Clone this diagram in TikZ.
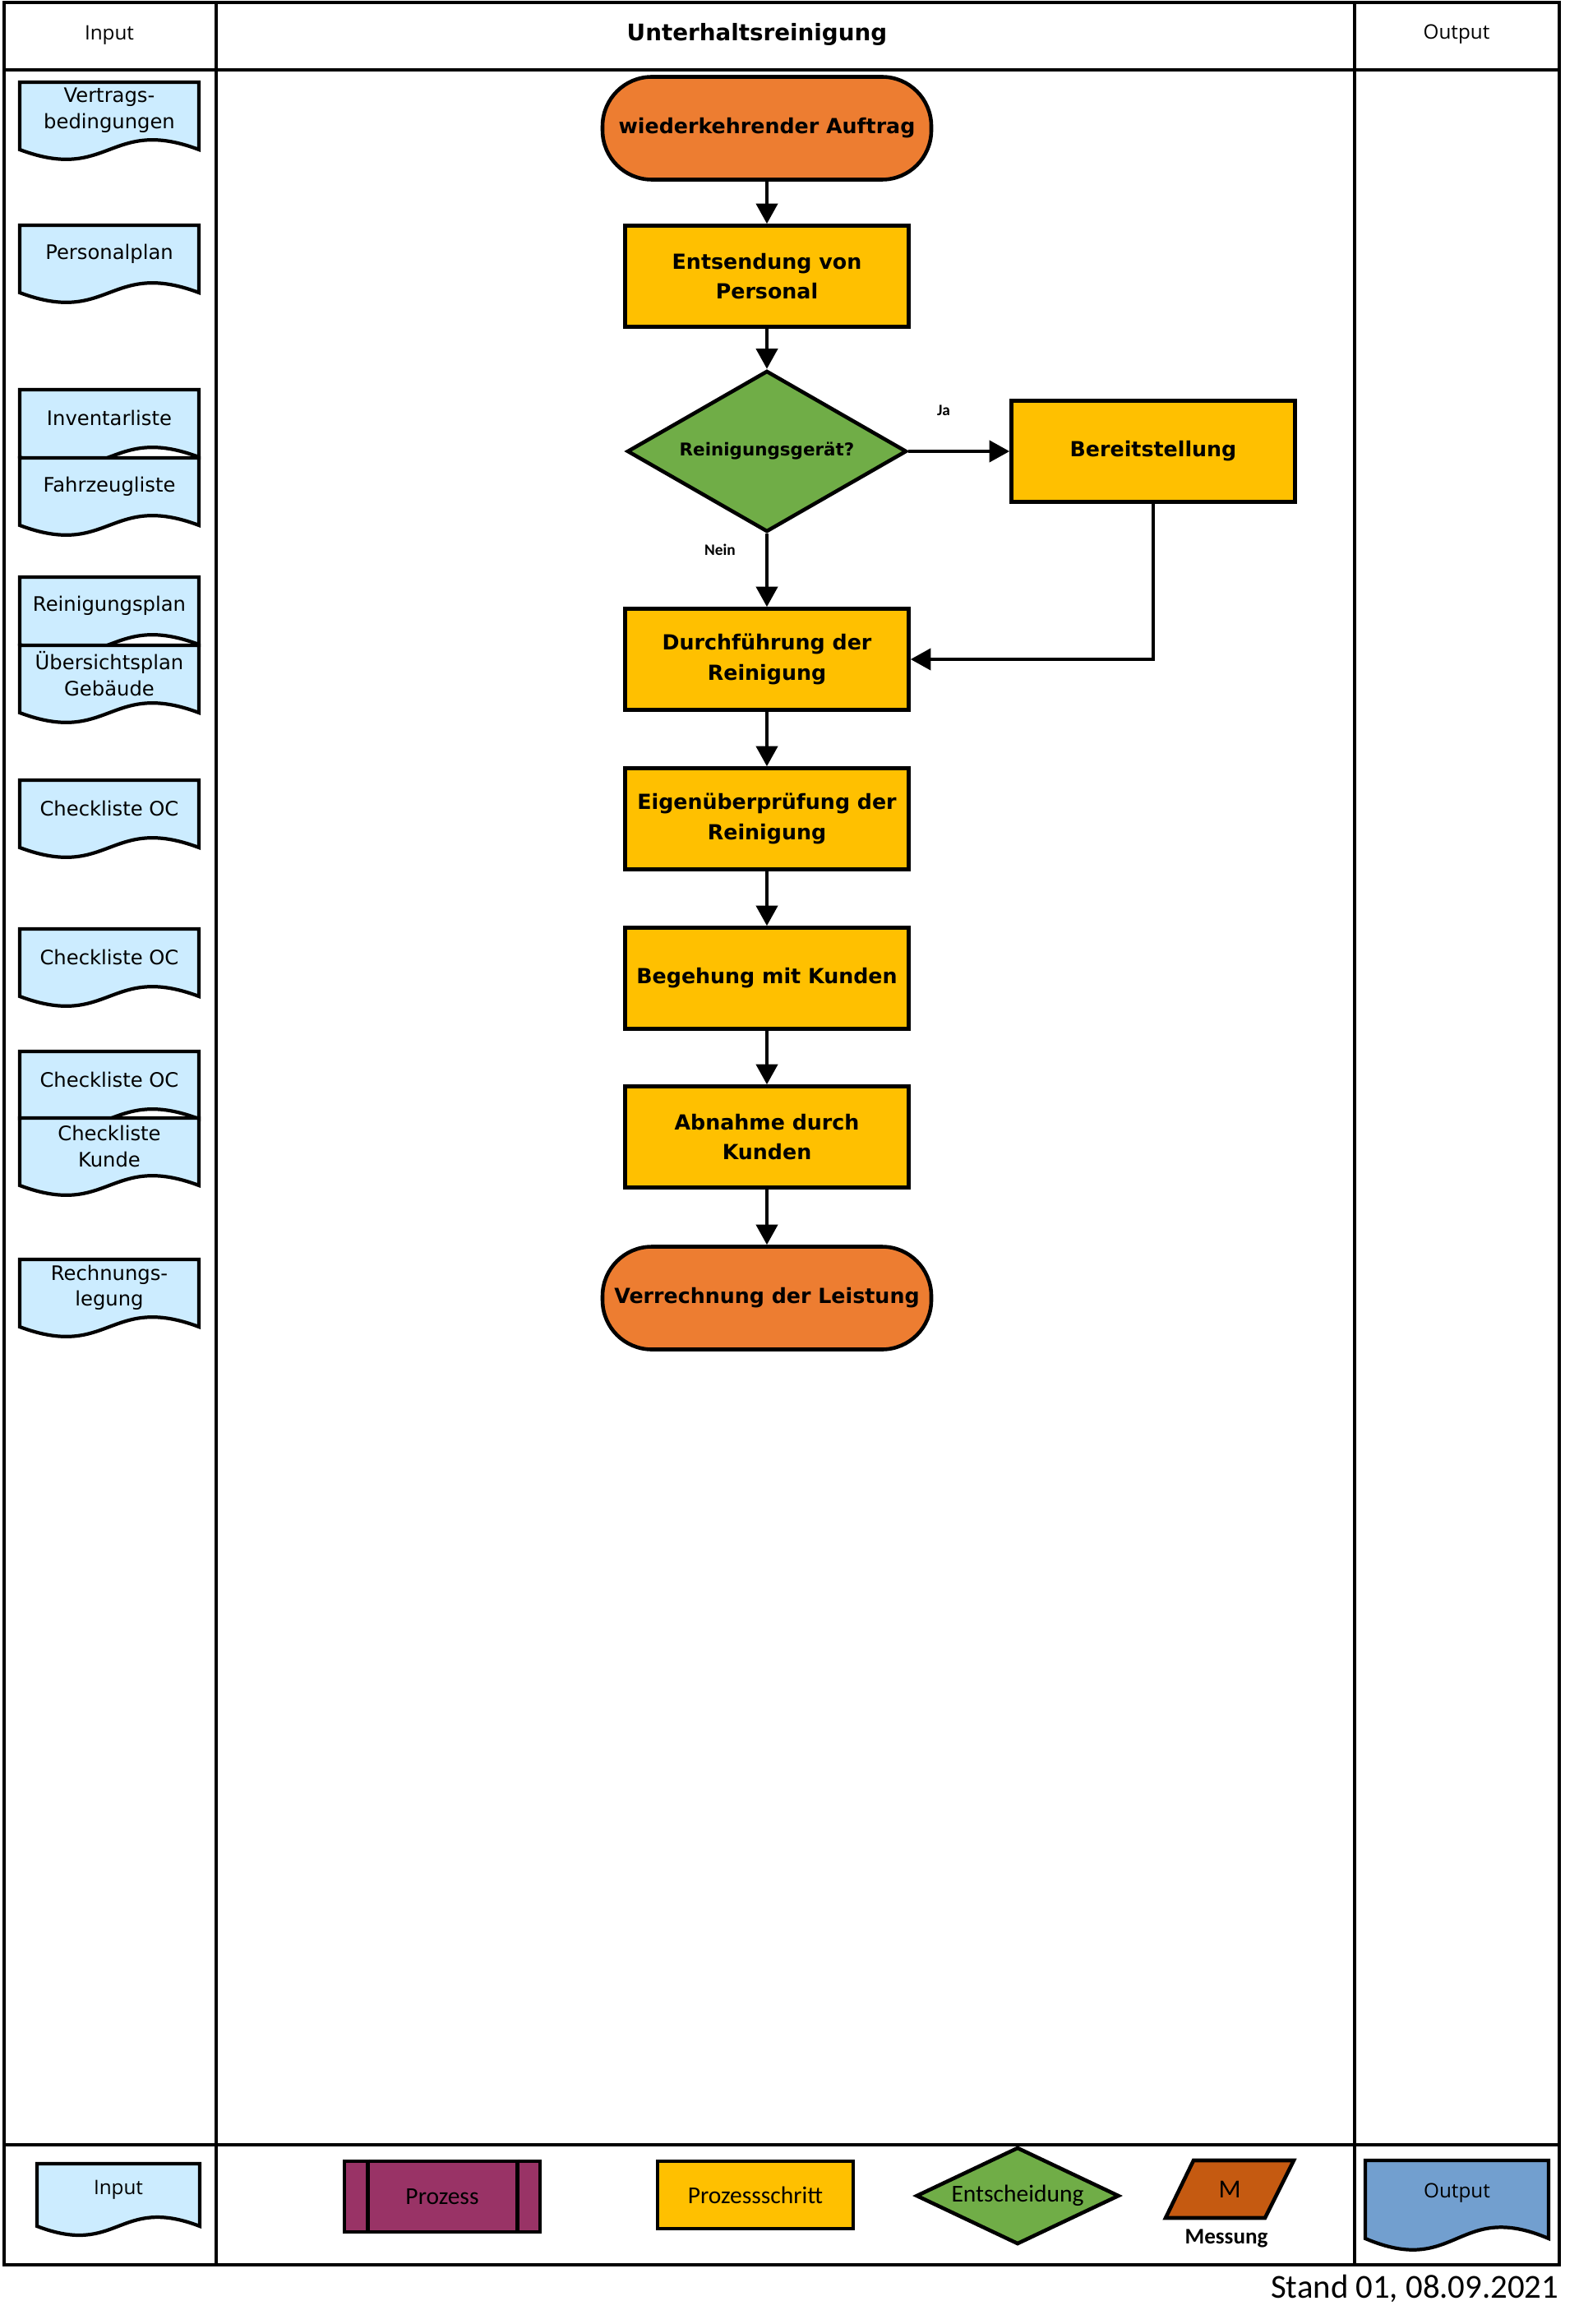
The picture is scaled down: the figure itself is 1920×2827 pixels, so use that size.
\documentclass[tikz,border=0pt]{standalone}
\usepackage{fontspec}
\setmainfont{DejaVu Sans}
\newfontfamily\carlito{Carlito}
\newfontfamily\opensans{Open Sans}
\usetikzlibrary{arrows.meta,shapes.geometric}

\definecolor{docblue}{HTML}{CCECFF}
\definecolor{termorange}{HTML}{ED7D31}
\definecolor{stepyellow}{HTML}{FFC000}
\definecolor{decgreen}{HTML}{70AD47}
\definecolor{prozpurple}{HTML}{993366}
\definecolor{messbrown}{HTML}{C55A11}
\definecolor{outblue}{HTML}{729FCF}

% document symbol: name, left, top, width, side height, fill, text
\newcommand{\docshape}[7]{%
  \filldraw[docline, fill=#6] (#2,#3) -- (#2+#4,#3) -- (#2+#4,#3+#5)
    .. controls (#2+#4/2,#3+#5/2) and (#2+#4/2,#3+1.5*#5) .. (#2,#3+#5) -- cycle;
  \node[doctext] (#1) at (#2+#4/2,#3+0.42*#5) {#7};
}

\begin{document}
\begin{tikzpicture}[x=0.1mm, y=-0.1mm,
	frame/.style={line width=1.3pt},
	docline/.style={draw=black, line width=1.2pt},
	doctext/.style={align=center, inner sep=0pt, font=\fontsize{6.9}{9}\selectfont},
	term/.style={rectangle, rounded corners=6mm, draw, line width=1.3pt, fill=termorange,
		minimum width=40mm, minimum height=12.5mm, inner xsep=0pt,
		font=\bfseries\fontsize{7.2}{10.4}\selectfont},
	stepbox/.style={rectangle, draw, line width=1.3pt, fill=stepyellow, minimum width=34.5mm,
		minimum height=12.3mm, align=center, font=\bfseries\fontsize{7.2}{10.4}\selectfont},
	decision/.style={diamond, draw, line width=1.3pt, fill=decgreen, minimum width=34mm,
		minimum height=19.6mm, aspect=1.7, inner sep=0pt, font=\bfseries\fontsize{6.1}{8}\selectfont},
	flow/.style={line width=1.2pt, -{Triangle[length=7pt,width=7.4pt]}},
	lbl/.style={inner sep=0pt, font=\carlito\bfseries\fontsize{5.5}{6}\selectfont},
	head/.style={inner sep=0pt, font=\opensans\fontsize{6.9}{8}\selectfont},
	legtext/.style={inner sep=0pt, font=\carlito\fontsize{8.4}{10}\selectfont}]

	\useasboundingbox (0,0) rectangle (1920,2827);

	% table
	\draw[frame] (5,3) rectangle (1897,2755);
	\draw[frame] (5,85) -- (1897,85);
	\draw[line width=0.9pt] (5,2609) -- (1897,2609);
	\draw[frame] (263,3) -- (263,2755);
	\draw[frame] (1648,3) -- (1648,2755);

	\node[head] (hin) at (133,43) {Input};
	\node[inner sep=0pt, font=\bfseries\fontsize{7.9}{9}\selectfont] (htitle) at (921,42) {Unterhaltsreinigung};
	\node[head] (hout) at (1772,42) {Output};

	% inputs
	\foreach \nm/\ty/\txt in {vertrag/100/{Vertrags-\\bedingungen}, personal/274/Personalplan,
		inventar/474/Inventarliste, fahrzeug/557/Fahrzeugliste, reinplan/702/Reinigungsplan,
		uebersicht/785/{Übersichtsplan\\Gebäude}, checka/949/Checkliste OC, checkb/1130/Checkliste OC,
		checkc/1279/Checkliste OC, kunde/1360/{Checkliste\\Kunde}, rechnung/1532/{Rechnungs-\\legung}}
		\docshape{\nm}{24}{\ty}{218}{82}{docblue}{\txt};

	% flow
	\node[term] (auftrag) at (933,156) {wiederkehrender Auftrag};
	\node[stepbox] (entsendung) at (933,336) {Entsendung von\\Personal};
	\node[decision] (geraet) at (933,549) {Reinigungsgerät?};
	\node[stepbox] (bereit) at (1403,549) {Bereitstellung};
	\node[stepbox] (durchf) at (933,802) {Durchführung der\\Reinigung};
	\node[stepbox] (eigen) at (933,996) {Eigenüberprüfung der\\Reinigung};
	\node[stepbox] (begehung) at (933,1190) {Begehung mit Kunden};
	\node[stepbox] (abnahme) at (933,1383) {Abnahme durch\\Kunden};
	\node[term] (verrechnung) at (933,1579) {Verrechnung der Leistung};

	\draw[flow] (auftrag) -- (entsendung);
	\draw[flow] (entsendung) -- (geraet);
	\draw[flow] (geraet) -- (bereit);
	\draw[flow] (geraet) -- (durchf);
	\draw[flow] (bereit.south) |- (durchf.east);
	\draw[flow] (durchf) -- (eigen);
	\draw[flow] (eigen) -- (begehung);
	\draw[flow] (begehung) -- (abnahme);
	\draw[flow] (abnahme) -- (verrechnung);

	\node[lbl] (ja) at (1148,499) {Ja};
	\node[lbl] (nein) at (876,669) {Nein};

	% legend
	\docshape{lin}{45}{2632}{198}{76}{docblue}{\opensans Input}
	\node[rectangle, draw, line width=1.3pt, fill=prozpurple, minimum width=23.8mm,
		minimum height=8.6mm, legtext] (lproz) at (538,2672) {Prozess};
	\draw[line width=1.3pt] ([xshift=3.1mm]lproz.north west) -- ([xshift=3.1mm]lproz.south west);
	\draw[line width=1.3pt] ([xshift=-3mm]lproz.north east) -- ([xshift=-3mm]lproz.south east);
	\node[rectangle, draw, line width=1.3pt, fill=stepyellow, minimum width=23.8mm,
		minimum height=8.2mm, legtext] (lschritt) at (919,2670) {Prozessschritt};
	\node[diamond, draw, line width=1.3pt, fill=decgreen, minimum width=24.7mm,
		minimum height=11.8mm, aspect=2.1, inner sep=0pt, legtext] (lentsch) at (1238,2671) {Entscheidung};
	\filldraw[line width=1.3pt, fill=messbrown] (1452,2628) -- (1574,2628) -- (1539,2698) -- (1418,2698) -- cycle;
	\node[inner sep=0pt, font=\carlito\fontsize{9}{10}\selectfont] (lm) at (1496,2663) {M};
	\node[inner sep=0pt, font=\carlito\bfseries\fontsize{7.7}{9}\selectfont] (lmess) at (1492,2723) {Messung};
	\docshape{lout}{1661}{2628}{223}{95}{outblue}{\opensans Output}

	\node[anchor=base east, inner sep=0pt, font=\carlito\fontsize{11.6}{14}\selectfont] (stand) at (1897,2795) {Stand 01, 08.09.2021};

\end{tikzpicture}
\end{document}
